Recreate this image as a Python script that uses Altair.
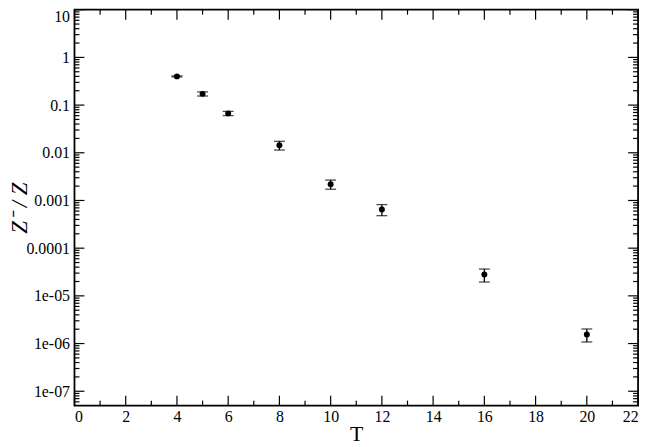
import altair as alt
import pandas as pd

# ---- data ----
T = [4, 5, 6, 8, 10, 12, 16, 20]
Z = [0.40, 0.172, 0.067, 0.0144, 0.0022, 0.00065, 2.8e-5, 1.55e-6]
ERR = [0.01, 0.017, 0.0068, 0.003, 0.00048, 0.00017, 0.85e-5, 0.47e-6]

X_MAJOR = [0, 2, 4, 6, 8, 10, 12, 14, 16, 18, 20, 22]
X_MINOR = [1, 3, 5, 7, 9, 11, 13, 15, 17, 19, 21]
Y_EXP = [1, 0, -1, -2, -3, -4, -5, -6, -7]
Y_LABELS = ['10', '1', '0.1', '0.01', '0.001', '0.0001', '1e-05', '1e-06', '1e-07']
Y_MINOR_MULT = [2, 3, 4, 5, 6, 7, 8, 9]

W, H = 568, 399
YMIN, YMAX = 5e-8, 10
FONT = 'Liberation Serif'

df = pd.DataFrame({
    'T': T, 'Z': Z,
    'lo': [z - e for z, e in zip(Z, ERR)],
    'hi': [z + e for z, e in zip(Z, ERR)],
})

y_major = [10.0 ** e for e in Y_EXP]
y_minor = [m * 10.0 ** e for e in range(-8, 1) for m in Y_MINOR_MULT]
y_minor = [v for v in y_minor if YMIN < v < YMAX]

xs = alt.Scale(domain=[0, 22], nice=False, zero=False)
ys = alt.Scale(type='log', domain=[YMIN, YMAX], nice=False)

label_arr = '[' + ','.join("'%s'" % s for s in Y_LABELS) + ']'
label_expr = label_arr + '[1 - round(log(datum.value) / LN10)]'

x_axis = alt.Axis(values=X_MAJOR, title='T', titleFontSize=22, titleFontWeight='normal',
                  titleX=W / 2, titleY=35, titleBaseline='alphabetic', titleAlign='center',
                  labelPadding=3, labelFontSize=16, ticks=False, domain=False, grid=False,
                  labelFont=FONT, titleFont=FONT, labelColor='black', titleColor='black')
y_axis = alt.Axis(values=y_major, labelExpr=label_expr, title='Z⁻ / Z', titleFontSize=23,
                  titleFontWeight='normal', titleFontStyle='italic', titleAngle=-90,
                  titleX=-48, titleY=H / 2, titleBaseline='alphabetic', titleAlign='center',
                  labelPadding=5, labelFontSize=16, ticks=False, domain=False, grid=False,
                  labelFlush=True, labelFlushOffset=1,
                  labelFont=FONT, titleFont=FONT, labelColor='black', titleColor='black')


def X(field):
    return alt.X(field + ':Q', scale=xs, axis=x_axis)


def Y(field):
    return alt.Y(field + ':Q', scale=ys, axis=y_axis)


# error bars
bars = alt.Chart(df).mark_rule(color='black', strokeWidth=1.3).encode(
    x=X('T'), y=Y('lo'), y2='hi:Q')
cap_hi = alt.Chart(df).mark_tick(color='black', orient='horizontal', size=11, thickness=1.3).encode(
    x=X('T'), y=Y('hi'))
cap_lo = alt.Chart(df).mark_tick(color='black', orient='horizontal', size=11, thickness=1.3).encode(
    x=X('T'), y=Y('lo'))
points = alt.Chart(df).mark_point(filled=True, shape='circle', size=36, color='black', opacity=1).encode(
    x=X('T'), y=Y('Z'))


# inward tick marks on all four sides
def xticks(vals, length):
    d = pd.DataFrame({'T': vals})
    bottom = alt.Chart(d).mark_rule(color='black', strokeWidth=1.2).encode(
        x=X('T'), y=alt.value(H), y2=alt.value(H - length))
    top = alt.Chart(d).mark_rule(color='black', strokeWidth=1.2).encode(
        x=X('T'), y=alt.value(0), y2=alt.value(length))
    return [bottom, top]


def yticks(vals, length):
    d = pd.DataFrame({'Z': vals})
    left = alt.Chart(d).mark_rule(color='black', strokeWidth=1.2).encode(
        y=Y('Z'), x=alt.value(0), x2=alt.value(length))
    right = alt.Chart(d).mark_rule(color='black', strokeWidth=1.2).encode(
        y=Y('Z'), x=alt.value(W - length), x2=alt.value(W))
    return [left, right]


layers = [bars, cap_hi, cap_lo, points] + xticks(X_MAJOR, 10) + xticks(X_MINOR, 5) \
    + yticks(y_major, 10) + yticks(y_minor, 5)

chart = alt.layer(*layers).properties(
    width=W, height=H,
    background='white',
    autosize=alt.AutoSizeParams(type='none'),
    padding={'left': 67, 'top': 0, 'right': 8, 'bottom': 40},
).configure_view(
    stroke='#000000', strokeWidth=1.8, strokeOpacity=1
)

chart.save('out.html', embed_options={'renderer': 'svg', 'actions': False})
